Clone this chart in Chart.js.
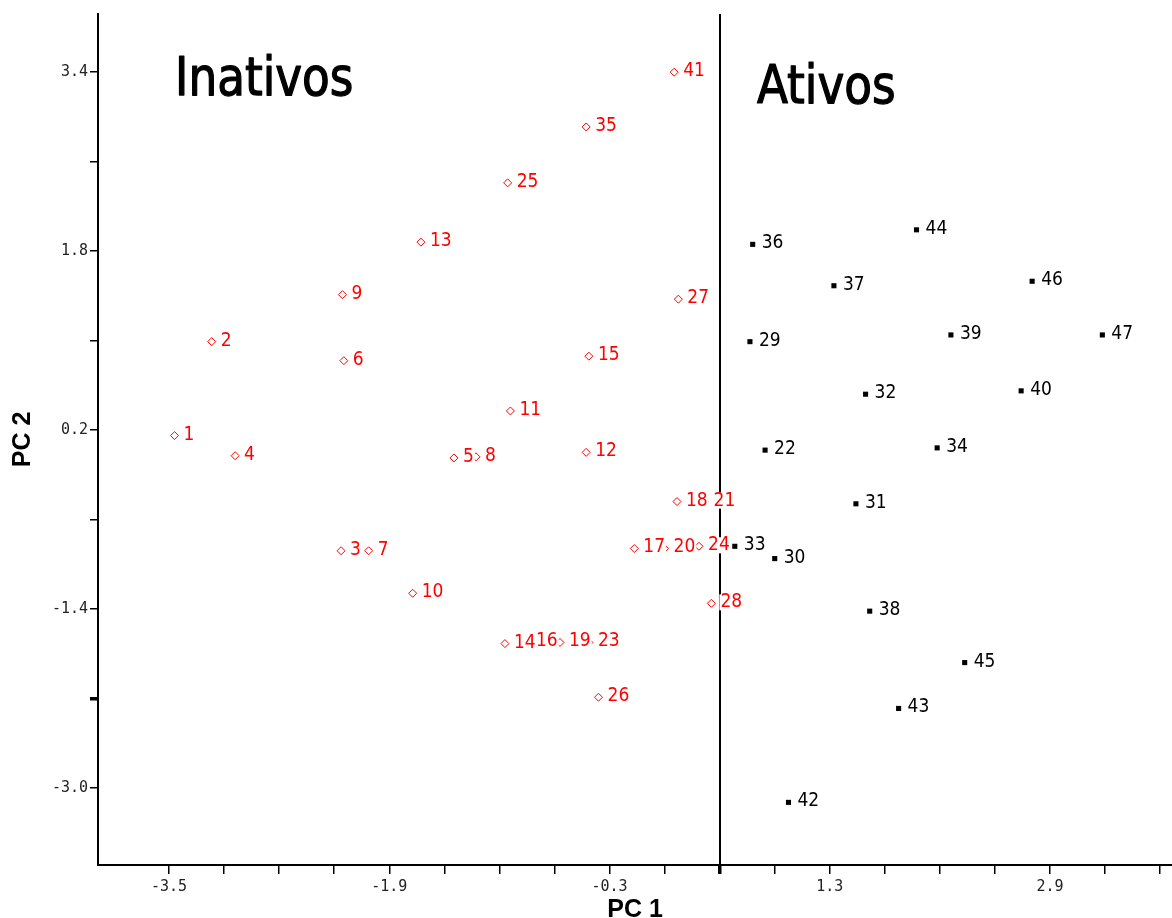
<!DOCTYPE html>
<html>
<head>
<meta charset="utf-8">
<script src="https://cdn.jsdelivr.net/npm/chart.js@4/dist/chart.umd.min.js"></script>
<style>
html,body{margin:0;padding:0;background:#fff;overflow:hidden}
#wrap{width:1172px;height:918px;position:relative}
</style>
</head>
<body>
<div id="wrap"><canvas id="c" width="1172" height="918"></canvas></div>
<script>
// ---- data ----
const inactiveLabels = ['1','2','3','4','5','6','7','8','9','10','11','12','13','14','15','16','17','18','19','20','21','23','24','25','26','27','28','35','41'];
const inactivePC1 = [-3.46,-3.19,-2.25,-3.02,-1.43,-2.23,-2.05,-1.27,-2.24,-1.73,-1.02,-0.47,-1.67,-1.06,-0.45,-0.90,-0.12,0.19,-0.66,0.10,0.39,-0.45,0.35,-1.04,-0.38,0.20,0.44,-0.47,0.17];
const inactivePC2 = [0.15,0.99,-0.88,-0.03,-0.05,0.82,-0.88,-0.04,1.41,-1.26,0.37,0.00,1.88,-1.71,0.86,-1.70,-0.86,-0.44,-1.70,-0.86,-0.44,-1.70,-0.84,2.41,-2.19,1.37,-1.35,2.91,3.40];

const activeLabels = ['22','29','30','31','32','33','34','36','37','38','39','40','42','43','44','45','46','47'];
const activePC1 = [0.83,0.72,0.90,1.49,1.56,0.61,2.08,0.74,1.33,1.59,2.18,2.69,1.00,1.80,1.93,2.28,2.77,3.28];
const activePC2 = [0.02,0.99,-0.95,-0.46,0.52,-0.84,0.04,1.86,1.49,-1.42,1.05,0.55,-3.13,-2.29,1.99,-1.88,1.53,1.05];

const xTickValues = [-3.5,-3.1,-2.7,-2.3,-1.9,-1.5,-1.1,-0.7,-0.3,0.1,0.5,0.9,1.3,1.7,2.1,2.5,2.9,3.3,3.7];
const xTickLabels = ['-3.5','','','','-1.9','','','','-0.3','','','','1.3','','','','2.9','',''];
const yTickValues = [-3.0,-2.2,-1.4,-0.6,0.2,1.0,1.8,2.6,3.4];
const yTickLabels = ['-3.0','','-1.4','','0.2','','1.8','','3.4'];

const separatorPC1 = 0.5;
const groupTitles = ['Inativos','Ativos'];
const groupTitlePC1 = [-3.456, 0.771];
const groupTitlePC2 = [3.197, 3.126];

// ---- plugins ----
const separatorPlugin = {
  id: 'separator',
  beforeDatasetsDraw(chart) {
    const {ctx, chartArea, scales} = chart;
    const x = Math.round(scales.x.getPixelForValue(separatorPC1));
    ctx.save();
    ctx.strokeStyle = '#000';
    ctx.lineWidth = 2;
    ctx.beginPath();
    ctx.moveTo(x, chartArea.top);
    ctx.lineTo(x, chartArea.bottom);
    ctx.stroke();
    ctx.restore();
  }
};

const labelPlugin = {
  id: 'pointLabels',
  afterDatasetsDraw(chart) {
    const ctx = chart.ctx;
    ctx.save();
    ctx.font = "19px 'Liberation Sans Narrow', 'DejaVu Sans Condensed', 'Liberation Sans', sans-serif";
    ctx.textBaseline = 'middle';
    ctx.textAlign = 'left';
    chart.data.datasets.forEach((ds, di) => {
      const meta = chart.getDatasetMeta(di);
      meta.data.forEach((pt, i) => {
        const text = ds.data[i].id;
        const x = pt.x + 9, y = pt.y - 1;
        const w = ctx.measureText(text).width;
        ctx.fillStyle = '#fff';
        ctx.fillRect(x - 1, y - 8, w + 2, 16);
        ctx.fillStyle = ds.labelColor;
        ctx.fillText(text, x, y);
      });
    });
    // group titles
    ctx.font = "53px 'DejaVu Sans Condensed', 'DejaVu Sans', sans-serif";
    ctx.textBaseline = 'alphabetic';
    ctx.fillStyle = '#000';
    ctx.strokeStyle = '#000';
    ctx.lineWidth = 1.2;
    ctx.lineJoin = 'round';
    groupTitles.forEach((t, i) => {
      const px = chart.scales.x.getPixelForValue(groupTitlePC1[i]);
      const py = chart.scales.y.getPixelForValue(groupTitlePC2[i]);
      ctx.save();
      ctx.translate(px, py);
      ctx.scale(0.95, 1);
      ctx.fillText(t, 0, 0);
      ctx.strokeText(t, 0, 0);
      ctx.restore();
    });
    ctx.restore();
  }
};

const tickFont = {family: "'DejaVu Sans Mono', monospace", size: 15};

new Chart(document.getElementById('c'), {
  type: 'scatter',
  data: {
    datasets: [
      {
        label: 'Inativos',
        data: inactivePC1.map((v, i) => ({x: v, y: inactivePC2[i], id: inactiveLabels[i]})),
        pointStyle: 'rectRot', radius: 4, borderWidth: 1,
        borderColor: '#ff0000', backgroundColor: '#ffffff', labelColor: '#ff0000'
      },
      {
        label: 'Ativos',
        data: activePC1.map((v, i) => ({x: v, y: activePC2[i], id: activeLabels[i]})),
        pointStyle: 'rect', radius: 3.6, borderWidth: 0,
        borderColor: '#000', backgroundColor: '#000', labelColor: '#000'
      }
    ]
  },
  options: {
    responsive: false,
    animation: false,
    layout: {autoPadding: false, padding: {top: 14, left: 0, right: 0, bottom: 0}},
    plugins: {legend: {display: false}, tooltip: {enabled: false}},
    scales: {
      x: {
        type: 'linear', min: -4.016, max: 3.786,
        afterBuildTicks: s => { s.ticks = xTickValues.map(v => ({value: v})); },
        afterFit: s => { s.height = 53; s.paddingLeft = 0; s.paddingRight = 0; },
        ticks: {callback: (v, i) => xTickLabels[i], font: tickFont, color: '#222', padding: 4, maxRotation: 0, autoSkip: false},
        grid: {drawOnChartArea: false, drawTicks: true, tickLength: 9, color: '#000',
               lineWidth: c => (c.tick && Math.abs(c.tick.value - separatorPC1) < 1e-6) ? 3.5 : 1.5},
        border: {display: true, color: '#000', width: 2},
        title: {display: true, text: 'PC 1', color: '#000',
                font: {family: "'Liberation Sans', sans-serif", size: 25, weight: 'bold'},
                padding: {top: 0, bottom: -7}}
      },
      y: {
        type: 'linear', min: -3.69, max: 3.92,
        afterBuildTicks: s => { s.ticks = yTickValues.map(v => ({value: v})); },
        afterFit: s => { s.width = 98; s.paddingTop = 0; s.paddingBottom = 0; },
        ticks: {callback: (v, i) => yTickLabels[i], font: tickFont, color: '#222', padding: 2, autoSkip: false},
        grid: {drawOnChartArea: false, drawTicks: true, tickLength: 8, color: '#000',
               lineWidth: c => (c.tick && Math.abs(c.tick.value - (-2.2)) < 1e-6) ? 3.5 : 1.5},
        border: {display: true, color: '#000', width: 2},
        title: {display: true, text: 'PC 2', color: '#000',
                font: {family: "'Liberation Sans', sans-serif", size: 25, weight: 'bold'},
                padding: {top: 8.6, bottom: 0}}
      }
    }
  },
  plugins: [separatorPlugin, labelPlugin]
});
</script>
</body>
</html>
